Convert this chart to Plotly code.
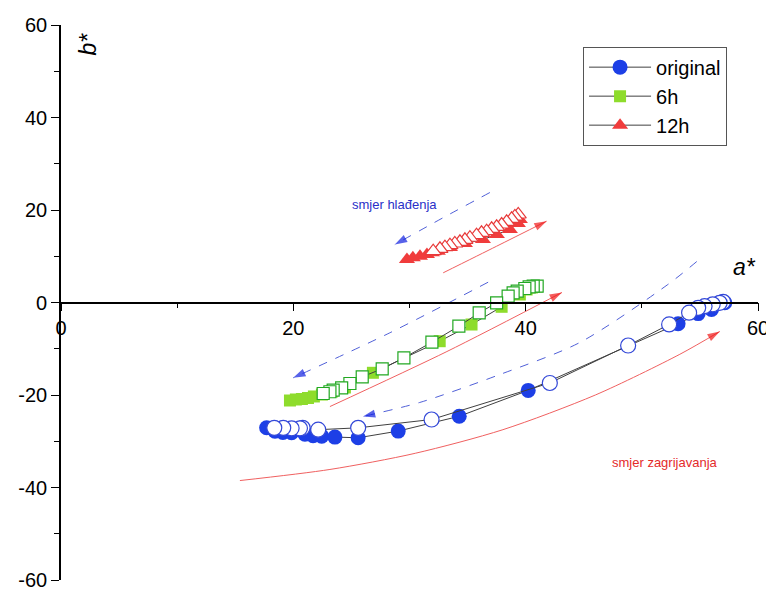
import plotly.graph_objects as go

# ---------------- data (a*, b*) ----------------
orig_heat_a = [17.70, 18.42, 19.1, 19.85, 21.0, 21.7, 22.44, 23.58, 25.58, 29.03, 34.28, 40.22, 53.12, 54.85, 56.0, 57.14]
orig_heat_b = [-27.09, -27.83, -28.1, -28.17, -28.5, -28.8, -28.9, -29.1, -29.25, -27.8, -24.6, -19.0, -4.6, -2.4, -1.5, -0.07]
orig_cool_a = [57.0, 56.7, 56.1, 55.4, 54.85, 54.07, 52.35, 48.82, 42.08, 31.9, 25.58, 22.14, 20.8, 20.57, 19.85, 19.13, 18.36]
orig_cool_b = [0.15, -0.07, -0.4, -0.8, -1.15, -2.2, -4.75, -9.3, -17.4, -25.3, -27.1, -27.5, -27.1, -27.2, -27.2, -27.1, -27.1]

h6_heat_a = [19.71, 20.22, 20.74, 21.26, 21.77, 22.46, 23.32, 24.44, 26.85, 32.6, 35.34, 37.93, 39.5, 40.08, 40.53, 40.96]
h6_heat_b = [-21.19, -20.97, -20.86, -20.65, -20.32, -19.9, -19.24, -18.38, -15.2, -8.37, -4.76, -0.93, 1.73, 2.81, 3.24, 3.46]
h6_cool_a = [40.99, 40.65, 40.3, 39.93, 39.27, 38.92, 38.49, 37.5, 36.0, 34.25, 31.93, 29.52, 27.65, 25.93, 24.87, 24.16, 23.43, 23.15, 22.57]
h6_cool_b = [3.52, 3.52, 3.39, 3.03, 2.44, 2.1, 1.36, -0.06, -2.23, -5.12, -8.58, -11.96, -14.34, -16.06, -17.51, -18.44, -18.96, -19.3, -19.68]

h12_heat_a = [29.78, 30.29, 30.9, 31.5, 31.93, 32.44, 33.48, 34.77, 36.32, 37.52, 38.64, 39.33, 39.5]
h12_heat_b = [9.3, 9.66, 10.0, 10.38, 10.75, 11.1, 11.9, 12.76, 13.6, 14.7, 15.8, 17.1, 17.95]
h12_cool_a = [39.36, 39.07, 38.79, 38.36, 37.93, 37.5, 37.07, 36.64, 36.2, 35.77, 35.2, 34.77, 34.34, 33.9, 33.48, 33.05, 32.62, 32.04]
h12_cool_b = [19.03, 18.6, 18.1, 17.45, 16.86, 16.37, 15.94, 15.42, 15.07, 14.55, 14.0, 13.56, 13.12, 12.76, 12.39, 11.96, 11.6, 11.1]

series_names = ["original", "6h", "12h"]

# direction arrows (a*, b*) — cooling (blue dashed) and heating (red solid)
cool_arrows = [
    ([36.92, 32.87, 28.74], [23.78, 18.3, 12.54]),
    ([36.77, 28.31, 19.99], [4.39, -6.55, -16.28]),
    ([54.73, 52.24, 44.66, 37.78, 30.9, 25.99], [8.86, 3.89, -8.65, -15.57, -21.6, -24.65]),
]
heat_arrows = [
    ([32.9, 37.5, 41.8], [6.42, 12.17, 17.58]),
    ([23.15, 33.22, 43.12], [-22.5, -10.6, 2.16]),
    ([15.4, 23.15, 30.5, 38.04, 46.0, 53.27, 56.71], [-38.5, -36.1, -32.6, -27.5, -20.0, -11.2, -6.27]),
]

x_ticks = [0, 20, 40, 60]
y_ticks = [-60, -40, -20, 0, 20, 40, 60]

FONT = "Arial, Liberation Sans, sans-serif"
BLUE = "#1d3fe6"
GREEN_FILL = "#8edc2c"
GREEN_LINE = "#22a822"
RED = "#f03c3c"
LINE = "#404040"

fig = go.Figure()

# arrows first (behind data)
for xs, ys in cool_arrows:
    fig.add_trace(go.Scatter(
        x=xs, y=ys, mode="lines+markers", showlegend=False, hoverinfo="skip",
        line=dict(color="#5060d8", width=1, dash="dash", shape="spline", smoothing=0.8),
        marker=dict(symbol="arrow", angleref="previous",
                    size=[0] * (len(xs) - 1) + [13], color="#1020e0", line=dict(width=0)),
    ))
for xs, ys in heat_arrows:
    fig.add_trace(go.Scatter(
        x=xs, y=ys, mode="lines+markers", showlegend=False, hoverinfo="skip",
        line=dict(color="#f06060", width=1, shape="spline", smoothing=0.8),
        marker=dict(symbol="arrow", angleref="previous",
                    size=[0] * (len(xs) - 1) + [13], color="#f01818", line=dict(width=0)),
    ))

def add_pair(ha, hb, ca, cb, name, sym, size, fill, edge):
    fig.add_trace(go.Scatter(
        x=ha, y=hb, mode="lines+markers", name=name,
        line=dict(color=LINE, width=1),
        marker=dict(symbol=sym, size=size, color=fill, line=dict(color=fill, width=0)),
    ))
    fig.add_trace(go.Scatter(
        x=ca, y=cb, mode="lines+markers", name=name + " cooling", showlegend=False,
        line=dict(color=LINE, width=1),
        marker=dict(symbol=sym, size=size, color="white", line=dict(color=edge, width=1.2)),
    ))

add_pair(orig_heat_a, orig_heat_b, orig_cool_a, orig_cool_b, series_names[0], "circle", 15, BLUE, "#3348d8")
add_pair(h6_heat_a, h6_heat_b, h6_cool_a, h6_cool_b, series_names[1], "square", 12, GREEN_FILL, GREEN_LINE)
add_pair(h12_heat_a, h12_heat_b, h12_cool_a, h12_cool_b, series_names[2], "triangle-up", 14, RED, "#e83a3a")

annotations = [
    dict(x=28.74, y=21.19, text="smjer hlađenja", showarrow=False,
         font=dict(family=FONT, size=13, color="#2a30c8")),
    dict(x=51.98, y=-34.6, text="smjer zagrijavanja", showarrow=False,
         font=dict(family=FONT, size=13, color="#e42a2a")),
    dict(x=58.86, y=7.57, text="<i>a*</i>", showarrow=False,
         font=dict(family=FONT, size=23, color="black")),
    dict(x=2.32, y=56.0, text="<i>b*</i>", showarrow=False, textangle=-90,
         font=dict(family=FONT, size=23, color="black")),
]

# page body has an 8px default margin, so the figure is sized/offset to compensate
fig.update_layout(
    width=766, height=584,
    margin=dict(l=53, r=16, t=17, b=12, autoexpand=False),
    paper_bgcolor="white", plot_bgcolor="white",
    font=dict(family=FONT, size=20, color="black"),
    annotations=annotations,
    showlegend=True,
    legend=dict(x=0.749, y=0.961, xanchor="left", yanchor="top",
                bordercolor="#555555", borderwidth=1, bgcolor="white",
                font=dict(family=FONT, size=20, color="black"),
                itemwidth=62, tracegroupgap=0),
)
fig.update_xaxes(
    range=[0, 60], tickvals=x_ticks, ticktext=[str(v) for v in x_ticks],
    ticks="outside", ticklen=8, tickwidth=1.3, tickcolor="black",
    minor=dict(tickvals=[10, 30, 50], ticks="outside", ticklen=5, tickwidth=1.3, tickcolor="black"),
    showline=True, linecolor="black", linewidth=1.6,
    showgrid=False, zeroline=False,
    anchor="free", position=0.5,
    tickfont=dict(family=FONT, size=20, color="black"),
)
fig.update_yaxes(
    range=[-60, 60], tickvals=y_ticks, ticktext=[str(v) for v in y_ticks],
    ticks="outside", ticklen=8, tickwidth=1.3, tickcolor="black",
    minor=dict(tickvals=[-50, -30, -10, 10, 30, 50], ticks="outside", ticklen=5, tickwidth=1.3, tickcolor="black"),
    showline=True, linecolor="black", linewidth=1.6,
    showgrid=False, zeroline=False,
    tickfont=dict(family=FONT, size=20, color="black"),
)

fig.write_html("out.html")
